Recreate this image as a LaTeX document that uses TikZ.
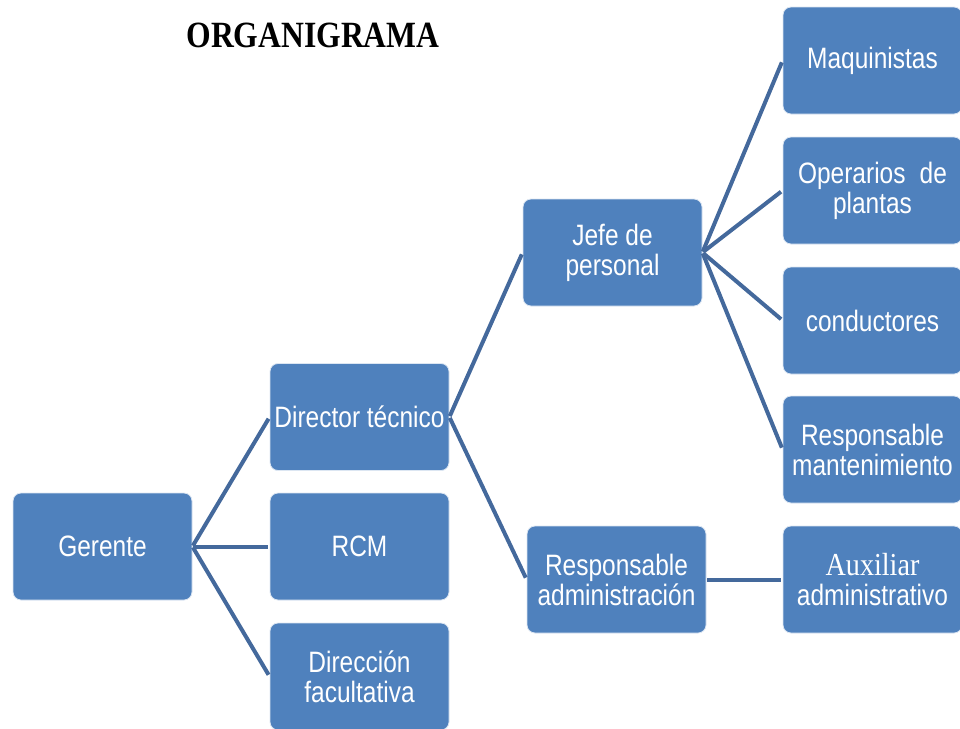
\documentclass[tikz,border=0pt]{standalone}
\usepackage{fontspec}
\newfontfamily\boxfont[FakeStretch=0.83]{Liberation Sans}
\newfontfamily\titlefont[FakeStretch=0.855]{Liberation Serif}
\newfontfamily\auxfont[FakeStretch=0.88]{Liberation Serif}
\definecolor{boxblue}{HTML}{4F81BD}
\definecolor{linkblue}{HTML}{44699C}
\definecolor{boxedge}{HTML}{DCE6F2}
\begin{document}
\begin{tikzpicture}[x=1pt,y=-1pt,
  orgbox/.style={draw=boxedge, line width=0.8pt, fill=boxblue, rounded corners=8pt,
    minimum width=179pt, minimum height=107pt, inner sep=0pt, align=center,
    text=white, font=\boxfont\fontsize{29.5}{30}\selectfont},
  link/.style={draw=linkblue, line width=4pt, shorten >=2pt, shorten <=1pt}]
\useasboundingbox (0,0) rectangle (960,728);
\begin{scope}
\clip (0,0) rectangle (960,728);
\node[font=\titlefont\bfseries\fontsize{37}{40}\selectfont, anchor=base] (title) at (313,47) {ORGANIGRAMA};

\node[orgbox] (ger) at (102.5,546.5) {Gerente};
\node[orgbox] (dir) at (359.5,417) {Director técnico};
\node[orgbox] (rcm) at (359.5,546.5) {RCM};
\node[orgbox] (fac) at (359.5,676.5) {Dirección\\facultativa};
\node[orgbox] (jef) at (612.5,252.5) {Jefe de\\personal};
\node[orgbox] (adm) at (616.5,579.5) {Responsable\\administración};
\node[orgbox] (maq) at (872.5,60.5) {Maquinistas};
\node[orgbox] (ope) at (872.5,190.5) {Operarios\hspace{0.25em} de\\plantas};
\node[orgbox] (con) at (872.5,320.5) {conductores};
\node[orgbox] (man) at (872.5,449.5) {Responsable\\mantenimiento};
\node[orgbox] (aux) at (872.5,579.5) {{\auxfont\fontsize{32}{30}\selectfont Auxiliar}\\administrativo};

\draw[link] (ger.east) -- (dir.west);
\draw[link] (ger.east) -- (rcm.west);
\draw[link] (ger.east) -- (fac.west);
\draw[link] (dir.east) -- (jef.west);
\draw[link] (dir.east) -- (adm.west);
\draw[link] (jef.east) -- (maq.west);
\draw[link] (jef.east) -- (ope.west);
\draw[link] (jef.east) -- (con.west);
\draw[link] (jef.east) -- (man.west);
\draw[link] (adm.east) -- (aux.west);
\end{scope}
\end{tikzpicture}
\end{document}
